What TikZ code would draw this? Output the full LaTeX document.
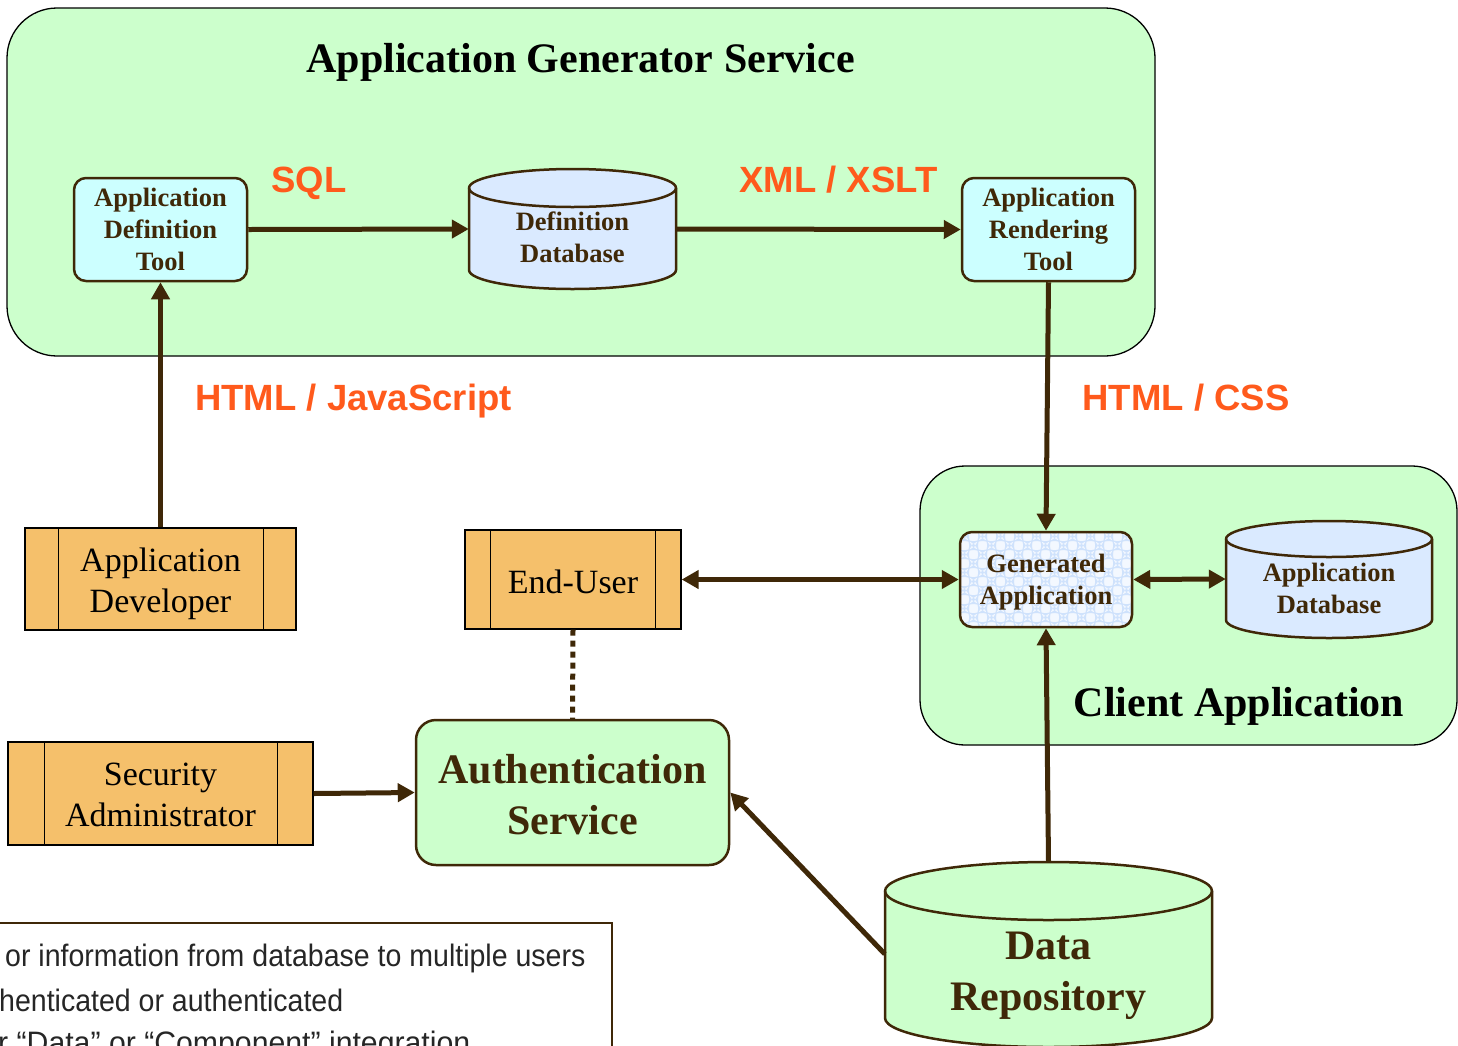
\documentclass[tikz,border=0pt]{standalone}
\usepackage{fontspec}
\setmainfont{Liberation Serif}
\newfontfamily\arialf{Liberation Sans}
\newfontfamily\narrowf[FakeStretch=0.92]{Liberation Sans}
\newfontfamily\narrowwf[FakeStretch=0.975]{Liberation Sans}
\usetikzlibrary{arrows.meta,calc}
\definecolor{agreen}{HTML}{CCFFCC}
\definecolor{acyan}{HTML}{CCFFFF}
\definecolor{ablue}{HTML}{DAEAFF}
\definecolor{chkA}{HTML}{CFE2FC}
\definecolor{chkB}{HTML}{F3F8FF}
\definecolor{atan}{HTML}{F5C06B}
\definecolor{brownl}{HTML}{3F2808}
\definecolor{orangel}{HTML}{FF5A1C}
\tikzset{
  container/.style={draw=black, line width=1.3pt, fill=agreen, inner sep=0},
  tool/.style={draw=brownl, line width=2.5pt, fill=acyan, rounded corners=12pt,
    minimum width=173pt, minimum height=103pt, inner sep=0, align=center,
    font=\bfseries\fontsize{26.5}{32}\selectfont, text=brownl},
  smalltext/.style={align=center, inner sep=0, font=\bfseries\fontsize{26.5}{32}\selectfont, text=brownl},
  bigtext/.style={align=center, inner sep=0, font=\bfseries\fontsize{42}{51}\selectfont, text=brownl},
  title/.style={inner sep=0, font=\bfseries\fontsize{42}{50}\selectfont, text=black, anchor=base},
  actor/.style={draw=black, line width=1.3pt, fill=atan, inner sep=0},
  actortext/.style={inner sep=0, align=center, font=\fontsize{34}{41}\selectfont, text=black},
  proto/.style={inner sep=0, font=\arialf\bfseries\fontsize{36.5}{44}\selectfont, text=orangel, anchor=base},
  ghost/.style={inner sep=0, draw=none},
  conn/.style={draw=brownl, line width=5pt, -{Triangle[length=17pt,width=18pt]}},
  biconn/.style={draw=brownl, line width=5pt, {Triangle[length=17pt,width=18pt]}-{Triangle[length=17pt,width=18pt]}},
  dotconn/.style={draw=brownl, line width=5pt, dash pattern=on 6pt off 5pt},
  cylline/.style={draw=brownl, line width=2.5pt},
  note/.style={inner sep=0, anchor=base west, font=\narrowf\fontsize{31}{38}\selectfont, text=black!85}
}
% cx, rx, top centre y, bottom centre y, ry, fill
\newcommand\drawcyl[6]{%
  \filldraw[cylline, fill=#6] (#1-#2,-#3) -- (#1-#2,-#4)
    arc[start angle=180, end angle=360, x radius=#2pt, y radius=#5pt]
    -- (#1+#2,-#3)
    arc[start angle=0, end angle=180, x radius=#2pt, y radius=#5pt] -- cycle;
  \draw[cylline] (#1-#2,-#3) arc[start angle=180, end angle=360, x radius=#2pt, y radius=#5pt];}
\newcommand\actorlines[3]{%
  \draw[black, line width=1.3pt] ([xshift=#2pt]#1.north west) -- ([xshift=#2pt]#1.south west);
  \draw[black, line width=1.3pt] ([xshift=-#3pt]#1.north east) -- ([xshift=-#3pt]#1.south east);}
\begin{document}
\begin{tikzpicture}[x=1pt, y=1pt]
\useasboundingbox (0,0) rectangle (1458,-1045);
\clip (0,0) rectangle (1458,-1045);
\fill[white] (0,0) rectangle (1458,-1045);

% containers
\node[container, rounded corners=50pt, minimum width=1148pt, minimum height=348pt] (ags) at (581,-182) {};
\node[container, rounded corners=45pt, minimum width=537pt, minimum height=279pt] (client) at (1188.5,-605.5) {};
\node[title] (agst) at (580.5,-72.5) {Application Generator Service};
\node[title] (cat) at (1239,-716) {Client Application};

% cylinders
\drawcyl{572.5}{103.5}{188}{270}{19}{ablue}
\node[ghost, minimum width=207pt, minimum height=118pt] (ddb) at (572.5,-229) {};
\node[smalltext] (ddbt) at (572.5,-237) {Definition\\Database};

\drawcyl{1329}{103}{539}{620}{18}{ablue}
\node[ghost, minimum width=206pt, minimum height=116pt] (adb) at (1329,-579) {};
\node[smalltext] (adbt) at (1329,-588) {Application\\Database};

\drawcyl{1048.5}{163.5}{891}{1018}{29}{agreen}
\node[ghost, minimum width=327pt, minimum height=184pt] (dr) at (1048.5,-954) {};
\node[bigtext] (drt) at (1048.5,-976) {Data\\Repository};

% tools
\node[tool] (adt) at (160.5,-229.5) {Application\\Definition\\Tool};
\node[tool] (art) at (1048.5,-229.5) {Application\\Rendering\\Tool};
\node[tool, minimum width=172pt, minimum height=95pt, fill=chkB,
  path picture={
    \foreach \i in {0,...,20}{\foreach \j in {0,...,11}{
      \pgfmathtruncatemacro\pp{\i+\j}
      \ifodd\pp\relax\else
      \fill[chkA] ($(path picture bounding box.north west)+(\i*9,-\j*9)$) rectangle ++(9,-9);
      \fi}}
  }] (ga) at (1046,-579.5) {};
\node[smalltext] (gat) at (1046,-582.5) {Generated\\Application};

% actors
\node[actor, minimum width=271pt, minimum height=102pt] (adev) at (160.5,-579) {};
\actorlines{adev}{34}{33}
\node[actortext] (adevt) at (160.5,-584) {Application\\Developer};
\node[actor, minimum width=216pt, minimum height=99pt] (eu) at (573,-579.5) {};
\actorlines{eu}{26}{26}
\node[actortext] (eut) at (573,-581.5) {End-User};
\node[actor, minimum width=305pt, minimum height=103pt] (sa) at (160.5,-793.5) {};
\actorlines{sa}{37}{36}
\node[actortext] (sat) at (160.5,-795) {Security\\Administrator};

% authentication
\node[draw=brownl, line width=2.5pt, fill=agreen, rounded corners=20pt, minimum width=313pt,
  minimum height=145pt, bigtext] (auth) at (572.5,-792.5) {};
\node[bigtext] (autht) at (572.5,-794.5) {Authentication\\Service};

% protocol labels
\node[proto] (sql) at (309,-192) {SQL};
\node[proto] (xml) at (838.5,-192) {XML / XSLT};
\node[proto] (hjs) at (353.5,-410) {HTML / JavaScript};
\node[proto] (hcss) at (1186,-410) {HTML / CSS};

% connectors
\draw[conn] (adt.east) -- (ddb.west);
\draw[conn] (ddb.east) -- (art.west);
\draw[conn] (adev.north) -- (adt.south);
\draw[conn] (art.south) -- (ga.north);
\draw[biconn] (eu.east) -- (ga.west);
\draw[biconn] (ga.east) -- (adb.west);
\draw[conn] (sa.east) -- (auth.west);
\draw[conn] (dr.north) -- (ga.south);
\draw[conn] (dr.west) -- (auth.east);
\draw[dotconn] (eu.south) -- (auth.north);

% note box
\node[draw=brownl, line width=2pt, fill=white, minimum width=642pt, minimum height=160pt, inner sep=0] (notebox) at (291,-1003) {};
\node[note] (n1) at (5,-966) {or information from database to multiple users};
\node[note] (n2) at (-1,-1011) {henticated or authenticated};
\node[note, font=\narrowwf\fontsize{31}{38}\selectfont] (n3) at (-2,-1053) {r “Data” or “Component” integration};
\end{tikzpicture}
\end{document}
